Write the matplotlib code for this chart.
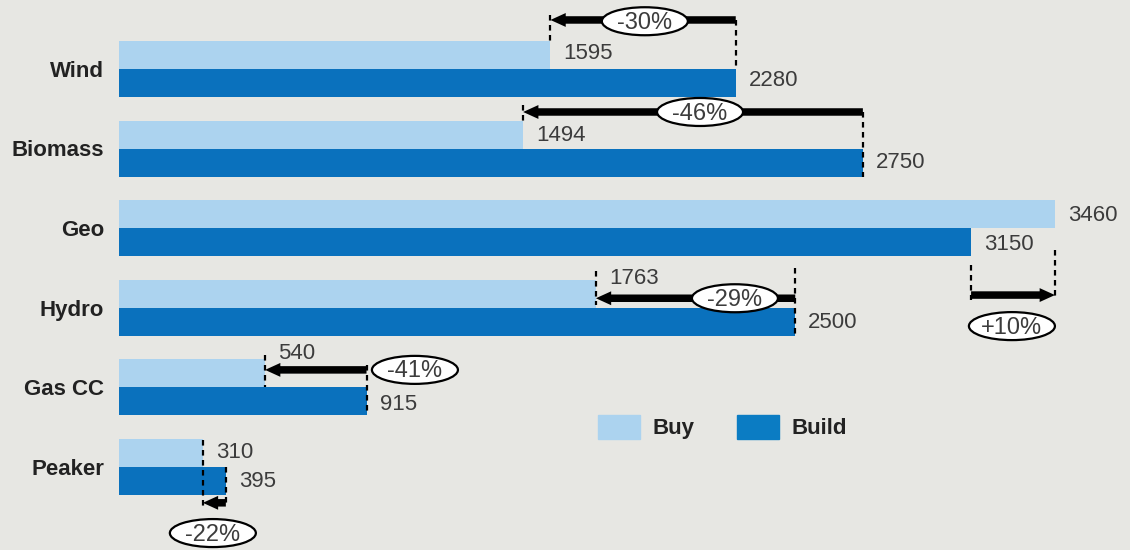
import numpy as np
import matplotlib.pyplot as plt
from matplotlib.patches import Patch, Ellipse

categories = ["Wind", "Biomass", "Geo", "Hydro", "Gas CC", "Peaker"]
buy = [1595, 1494, 3460, 1763, 540, 310]
build = [2280, 2750, 3150, 2500, 915, 395]
pct_labels = ["-30%", "-46%", "+10%", "-29%", "-41%", "-22%"]

c_buy = '#acd3ef'
c_build = '#0a71bd'
bg = '#e7e7e3'
txt = '#3c3c3c'

plt.rcParams['font.family'] = ['Liberation Sans', 'DejaVu Sans']

fig = plt.figure(figsize=(11.3, 5.5), dpi=100, facecolor=bg)
ax = fig.add_axes([0, 0, 1, 1])
ax.set_facecolor(bg)
ax.set_axis_off()

# pixel mapping: x=0 at 119px, 0.2705 px per unit; rows 79.6px apart
xs = 0.2705
ry = 79.6
ax.set_xlim(-119 / xs, (1130 - 119) / xs)
ax.set_ylim((550 - 69) / ry, -69 / ry)

h = 28 / ry
y = np.arange(len(categories))
ax.barh(y - h / 2, buy, height=h, color=c_buy)
ax.barh(y + h / 2, build, height=h, color=c_build)

for i, cat in enumerate(categories):
    ax.text(-15 / xs, i + 0.03, cat, ha='right', va='center', fontsize=16,
            fontweight='bold', color='#222222')

# value labels (dy relative to row centre)
buy_dy = [-0.2, -0.16, -0.16, -0.37, -0.43, -0.18]
build_dy = [0.15, 0.18, 0.2, 0.18, 0.22, 0.18]
for i in range(len(categories)):
    ax.text(buy[i] + 13 / xs, i + buy_dy[i], str(buy[i]), ha='left',
            va='center', fontsize=16, color=txt)
    ax.text(build[i] + 13 / xs, i + build_dy[i], str(build[i]), ha='left',
            va='center', fontsize=16, color=txt)

# annotation layout (row-relative)
arrow_dy = [-0.616, -0.46, 0.84, -0.12, -0.22, 0.45]
buy_dash = [(-0.68, -h), (-0.55, -h), (0.27, 0.90), (-0.46, -0.04),
            (-0.41, 0.0), (-0.34, 0.52)]
build_dash = [(-0.616, 0.0), (-0.46, h), (0.46, 0.90), (-0.50, h),
              (-0.28, h), (0.0, 0.50)]
pct_pos = [(1944, -0.60), (2148, -0.46), (3301, 1.23), (2277, -0.12),
           (1094, -0.22), (347, 0.83)]

for i in range(len(categories)):
    ax.plot([buy[i], buy[i]], [i + buy_dash[i][0], i + buy_dash[i][1]],
            color='black', lw=1.6, ls=(0, (2.5, 2)))
    ax.plot([build[i], build[i]], [i + build_dash[i][0], i + build_dash[i][1]],
            color='black', lw=1.6, ls=(0, (2.5, 2)))
    ay = i + arrow_dy[i]
    ax.annotate('', xy=(buy[i], ay), xytext=(build[i], ay),
                arrowprops=dict(arrowstyle='simple,head_length=0.55,head_width=0.5,tail_width=0.27',
                                mutation_scale=20, lw=0, fc='black', ec='none',
                                shrinkA=0, shrinkB=0))
    px, py = pct_pos[i]
    ax.add_patch(Ellipse((px, i + py), width=86 / xs, height=28 / ry,
                         fc='white', ec='black', lw=1.6, zorder=4))
    ax.text(px, i + py + 0.02, pct_labels[i], ha='center', va='center',
            fontsize=17, color=txt, zorder=5)

handles = [Patch(color=c_buy, label='Buy'), Patch(color='#0b7cc3', label='Build')]
fig.legend(handles=handles, loc='center left', bbox_to_anchor=(598 / 1130, 1 - 427 / 550),
           ncol=2, frameon=False, borderpad=0, borderaxespad=0,
           handlelength=1.9, handleheight=1.3, handletextpad=0.55, columnspacing=1.9,
           prop={'weight': 'bold', 'size': 16}, labelcolor='#222222')

fig.savefig('out.png', dpi=100, facecolor=bg)
